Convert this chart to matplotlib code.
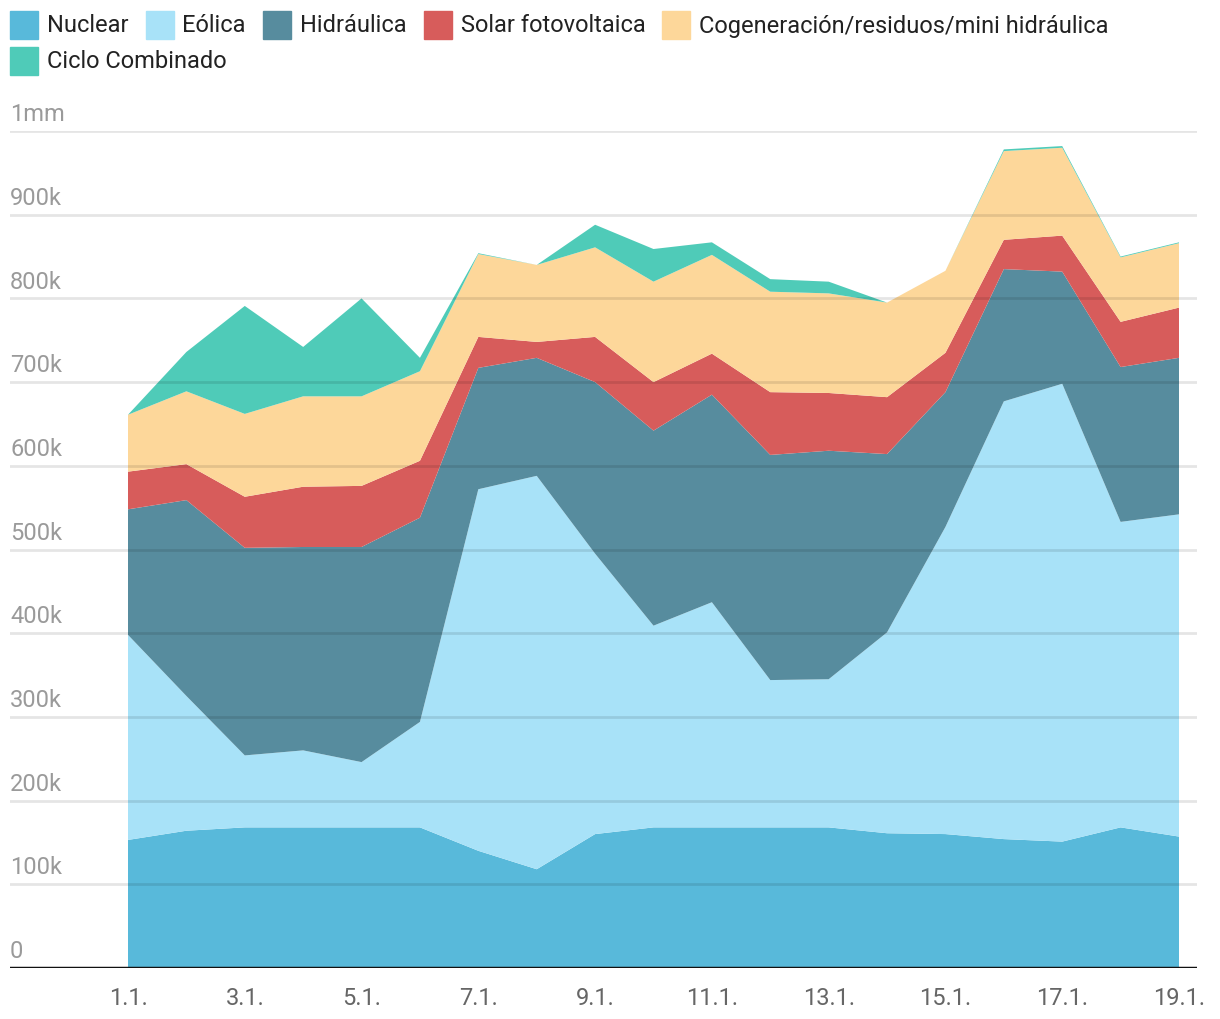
import numpy as np
import matplotlib
matplotlib.use('Agg')
import matplotlib.pyplot as plt
from matplotlib.patches import Rectangle

plt.rcParams['font.family'] = ['Roboto', 'DejaVu Sans']

days = list(range(1, 20))
day_labels = ['%d.1.' % d for d in days]

# thousands (k)
nuclear = [153, 164, 168, 168, 168, 168, 140, 118, 160, 168, 168, 168, 168, 161, 160, 154, 151, 168, 157]
eolica = [245, 161, 86, 92, 78, 126, 432, 470, 335, 241, 269, 176, 177, 240, 367, 523, 547, 365, 385]
hidraulica = [150, 234, 248, 243, 257, 244, 145, 141, 205, 233, 248, 269, 273, 213, 161, 158, 134, 185, 187]
solar = [45, 43, 61, 72, 73, 68, 37, 19, 54, 58, 49, 75, 69, 68, 47, 35, 43, 54, 60]
cogen = [68, 87, 99, 108, 107, 107, 99, 92, 107, 120, 118, 120, 119, 113, 98, 106, 105, 77, 77]
ciclo = [0, 47, 129, 59, 117, 16, 1, 0, 27, 39, 15, 15, 14, 0, 0, 2, 2, 1, 1]

names = ['Nuclear', 'Eólica', 'Hidráulica', 'Solar fotovoltaica',
         'Cogeneración/residuos/mini hidráulica', 'Ciclo Combinado']
colors = ['#58B9DA', '#A8E2F8', '#578C9E', '#D75C5B', '#FDD79A', '#4FCBB8']

y_ticks = [0, 100, 200, 300, 400, 500, 600, 700, 800, 900, 1000]
y_labels = ['0', '100k', '200k', '300k', '400k', '500k', '600k', '700k', '800k', '900k', '1mm']

W, H = 1220, 1020
fig = plt.figure(figsize=(W / 100, H / 100), dpi=100)
ax = fig.add_axes([10 / W, (H - 969) / H, (1197 - 10) / W, (969 - 132) / H])

step = (1179 - 128) / 18.0
ax.set_xlim(1 - (128 - 10) / step, 19 + (1197 - 1179) / step)
ax.set_ylim(0, 1000)

ax.stackplot(days, nuclear, eolica, hidraulica, solar, cogen, ciclo,
             colors=colors, linewidth=0, zorder=2)

# gridlines on top (show through fills)
for v in y_ticks[1:]:
    ax.axhline(v, color='black', alpha=0.1, lw=2, zorder=3)
ax.axhline(0, color='#111111', lw=2.5, zorder=4)

for v, lab in zip(y_ticks, y_labels):
    ax.text(ax.get_xlim()[0], v + 7, lab, ha='left', va='bottom',
            fontsize=17, color='#9a9a9a', zorder=5)

for s in ax.spines.values():
    s.set_visible(False)
ax.set_yticks([])
ax.set_xticks(days[::2])
ax.set_xticklabels(day_labels[::2], fontsize=17, color='#666666')
ax.tick_params(axis='x', length=0, pad=13)

# legend drawn by hand so it wraps like the original
fig.canvas.draw()
renderer = fig.canvas.get_renderer()
sq = 28
x = 10
rows_y = [26, 62]
row = 0
for name, c in zip(names, colors):
    t = fig.text(0, 0, name, fontsize=17, color='#222222', va='center', ha='left')
    tw = t.get_window_extent(renderer).width
    if x + sq + 9 + tw > 1150:
        row += 1
        x = 10
    yc = rows_y[row]
    fig.patches.append(Rectangle((x / W, (H - yc - sq / 2) / H), sq / W, sq / H,
                                 transform=fig.transFigure, color=c))
    t.set_position(((x + sq + 9) / W, (H - yc) / H))
    x = x + sq + 9 + tw + 17

fig.savefig('out.png', dpi=100)
